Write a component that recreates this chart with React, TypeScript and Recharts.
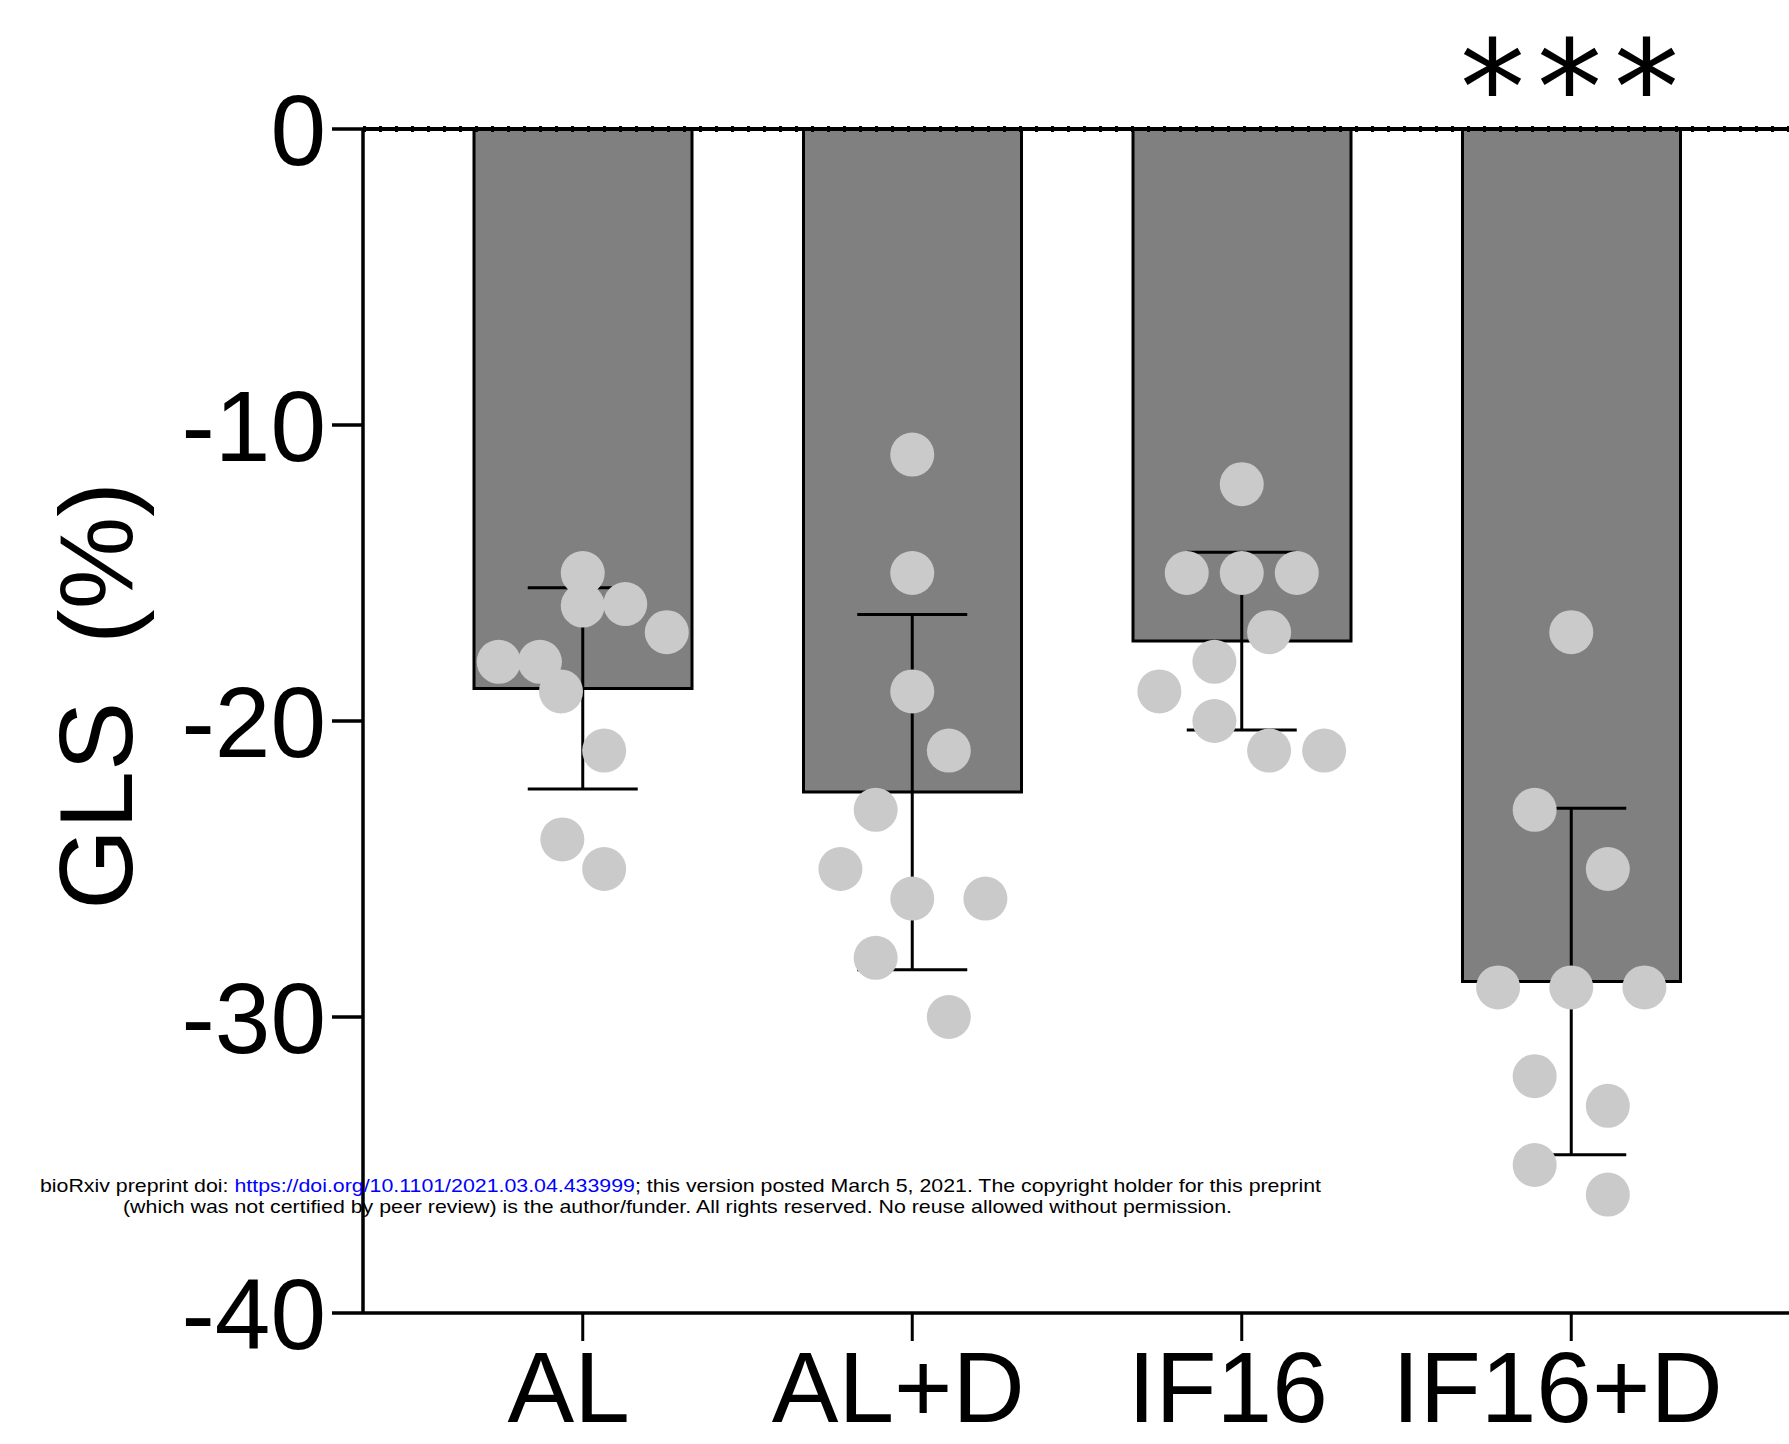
import {
  ComposedChart, Bar, Scatter, XAxis, YAxis, ErrorBar,
  ReferenceLine, LabelList,
} from 'recharts';

const groups = ['AL', 'AL+D', 'IF16', 'IF16+D'];
const means = [-18.9, -22.4, -17.3, -28.8];
const sds = [3.4, 6.0, 3.0, 5.85];
const significance = ['', '', '', '***'];
const yTicks = [0, -10, -20, -30, -40];

// individual animals, value + horizontal jitter (in category widths)
const alValues = [-15, -16.1, -16.05, -17, -18, -18, -19, -21, -24, -25];
const alJitter = [0, 0, 0.129, 0.255, -0.255, -0.13, -0.066, 0.065, -0.062, 0.065];
const aldValues = [-11, -15, -19, -21, -23, -25, -26, -26, -28, -30];
const aldJitter = [0, 0, 0, 0.111, -0.111, -0.218, 0, 0.222, -0.111, 0.111];
const if16Values = [-12, -15, -15, -15, -17, -18, -19, -20, -21, -21];
const if16Jitter = [0, -0.167, 0, 0.167, 0.083, -0.083, -0.25, -0.083, 0.083, 0.25];
const if16dValues = [-17, -23, -25, -29, -29, -29, -32, -33, -35, -36];
const if16dJitter = [0, -0.111, 0.111, -0.222, 0, 0.222, -0.111, 0.111, -0.111, 0.111];

const W = 1789;
const H = 1444;
const AXIS_W = 363;
const TOP = 129;
const XAXIS_H = 131;
const PAD_L = 55;
const PAD_R = 53;
const FONT = '"Liberation Sans", Arial, Helvetica, sans-serif';

const band = (W - AXIS_W - PAD_L - PAD_R) / groups.length;
const numDomain = [-0.5 - PAD_L / band, groups.length - 0.5 + PAD_R / band];

const barData = groups.map((g, i) => ({ group: g, mean: means[i], sig: significance[i] }));
const errData = groups.map((_, i) => ({ x: i, y: means[i], err: sds[i] }));

const pointSets = [
  [alValues, alJitter],
  [aldValues, aldJitter],
  [if16Values, if16Jitter],
  [if16dValues, if16dJitter],
];
const dots = pointSets.flatMap(([vals, jit], i) =>
  vals.map((v, k) => ({ x: i + jit[k], y: v })),
);

const renderSig = (props: any) => {
  const { x, y, width, height, value } = props;
  if (!value) return null;
  const top = Math.min(Number(y), Number(y) + Number(height));
  return (
    <text
      x={Number(x) + Number(width) / 2 + 4}
      y={top + 4}
      textAnchor="middle"
      fontFamily='"DejaVu Sans", sans-serif'
      fontSize={130}
      letterSpacing={12}
      fill="#000"
    >
      {value}
    </text>
  );
};

const renderYLabel = () => (
  <text
    x={95}
    y={696}
    transform="rotate(-90 95 696)"
    textAnchor="middle"
    dy="0.36em"
    fontFamily={FONT}
    fontSize={104}
    fill="#000"
  >
    {'GLS\u00A0\u00A0(%)'}
  </text>
);

const XTick = (props: any) => {
  const { x, y, payload } = props;
  return (
    <text
      x={x - 14}
      y={y}
      dy="0.71em"
      textAnchor="middle"
      fontFamily={FONT}
      fontSize={100}
      fill="#000"
    >
      {payload.value}
    </text>
  );
};

export default function App() {
  return (
    <div style={{ position: 'relative', width: W, height: H, background: '#fff' }}>
      <style>{'body{margin:0}'}</style>
      <ComposedChart
        width={W}
        height={H}
        data={barData}
        margin={{ top: TOP, right: 0, bottom: 0, left: 0 }}
      >
        <XAxis
          dataKey="group"
          interval={0}
          height={XAXIS_H}
          padding={{ left: PAD_L, right: PAD_R }}
          axisLine={{ stroke: '#000', strokeWidth: 3.5 }}
          tickLine={{ stroke: '#000', strokeWidth: 3 }}
          tickSize={28}
          tickMargin={10}
          tick={<XTick />}
        />
        <XAxis
          xAxisId="num"
          dataKey="x"
          type="number"
          domain={numDomain}
          allowDataOverflow
          hide
        />
        <YAxis
          width={AXIS_W}
          domain={[-40, 0]}
          ticks={yTicks}
          interval={0}
          allowDataOverflow
          axisLine={{ stroke: '#000', strokeWidth: 3.5 }}
          tickLine={{ stroke: '#000', strokeWidth: 3.5 }}
          tickSize={31}
          tickMargin={6}
          tick={{ fill: '#000', fontSize: 100, fontFamily: FONT }}
          label={{ content: renderYLabel }}
        />
        <Bar
          dataKey="mean"
          fill="#808080"
          stroke="#000"
          strokeWidth={3}
          barSize={218}
          isAnimationActive={false}
        >
          <LabelList dataKey="sig" content={renderSig} />
        </Bar>
        <ReferenceLine y={0} stroke="#000" strokeWidth={4} />
        <ReferenceLine y={0} stroke="#000" strokeWidth={6} strokeDasharray="3 13" />
        <Scatter
          xAxisId="num"
          data={dots}
          dataKey="y"
          isAnimationActive={false}
          shape={(p: any) => <circle cx={p.cx} cy={p.cy} r={22} fill="#cacaca" />}
        />
        <Scatter
          xAxisId="num"
          data={errData}
          dataKey="y"
          isAnimationActive={false}
          shape={() => <g />}
        >
          <ErrorBar dataKey="err" direction="y" width={55} stroke="#000" strokeWidth={3} />
        </Scatter>
      </ComposedChart>
      <svg
        width={W}
        height={H}
        style={{ position: 'absolute', left: 0, top: 0, pointerEvents: 'none' }}
      >
        <text
          x={40}
          y={1192}
          fontFamily={FONT}
          fontSize={19}
          textLength={1281}
          lengthAdjust="spacingAndGlyphs"
          fill="#000"
        >
          <tspan>bioRxiv preprint doi: </tspan>
          <tspan fill="#0000ff">https://doi.org/10.1101/2021.03.04.433999</tspan>
          <tspan>; this version posted March 5, 2021. The copyright holder for this preprint</tspan>
        </text>
        <text
          x={123}
          y={1213}
          fontFamily={FONT}
          fontSize={19}
          textLength={1109}
          lengthAdjust="spacingAndGlyphs"
          fill="#000"
        >
          (which was not certified by peer review) is the author/funder. All rights reserved. No reuse allowed without permission.
        </text>
      </svg>
    </div>
  );
}
